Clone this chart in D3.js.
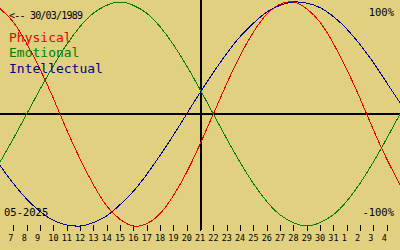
<!DOCTYPE html>
<html>
<head>
<meta charset="utf-8">
<script src="https://cdn.jsdelivr.net/npm/d3@7"></script>
<style>
  body { margin: 0; background: #e0d080; }
  svg { display: block; }
  .mono { font-family: "DejaVu Sans Mono", "Liberation Mono", monospace; }
</style>
</head>
<body>
<div id="bioChart"></div>
<script>
// ...............................
// biorhythm data (day of month, values in %)

var birthLabel = "<-- 30/03/1989";
var monthLabel = "05-2025";
var todayDay = 21;

// days shown: 6 May .. 5 June (32 = 1 June)
var days = [6, 7, 8, 9, 10, 11, 12, 13, 14, 15, 16, 17, 18, 19, 20, 21,
            22, 23, 24, 25, 26, 27, 28, 29, 30, 31, 32, 33, 34, 35, 36];

var physical = [94, 82, 63, 40, 14, -14, -40, -63, -82, -94, -100, -98, -89, -73, -52, -27,
                0, 27, 52, 73, 89, 98, 100, 94, 82, 63, 40, 14, -14, -40, -63];
var emotional = [-43, -22, 0, 22, 43, 62, 78, 90, 97, 100, 97, 90, 78, 62, 43, 22,
                 0, -22, -43, -62, -78, -90, -97, -100, -97, -90, -78, -62, -43, -22, 0];
var intellectual = [-46, -62, -76, -87, -95, -99, -100, -97, -91, -81, -69, -54, -37, -19, 0, 19,
                    37, 54, 69, 81, 91, 97, 100, 99, 95, 87, 76, 62, 46, 28, 10];

var seriesNames = ["Physical", "Emotional", "Intellectual"];
var seriesColours = ["#e80000", "#008000", "#000090"];

// tick positions and the labels printed under them
var tickDays = [7, 8, 9, 10, 11, 12, 13, 14, 15, 16, 17, 18, 19, 20, 21, 22, 23, 24,
                25, 26, 27, 28, 29, 30, 31, 32, 33, 34, 35];
var tickLabels = ["7", "8", "9", "10", "11", "12", "13", "14", "15", "16", "17", "18", "19",
                  "20", "21", "22", "23", "24", "25", "26", "27", "28", "29", "30", "31",
                  "1", "2", "3", "4"];

// ...............................
// layout

var width = 400, height = 250;

var x = d3.scaleLinear().domain([6, 36]).range([0, width]);
var y = d3.scaleLinear().domain([-100, 100]).range([226, 2]);

var svg = d3.select("#bioChart").append("svg")
  .attr("width", width).attr("height", height);

svg.append("rect").attr("width", width).attr("height", height).attr("fill", "#e0d080");

// axis lines (zero line and "today" line)
svg.append("line")
  .attr("x1", 0).attr("x2", width)
  .attr("y1", y(0)).attr("y2", y(0))
  .attr("stroke", "#000").attr("stroke-width", 2);

svg.append("line")
  .attr("x1", x(todayDay) + 1).attr("x2", x(todayDay) + 1)
  .attr("y1", 0).attr("y2", 230)
  .attr("stroke", "#000").attr("stroke-width", 2);

// day ticks + labels
var ticks = svg.append("g").attr("class", "mono");
ticks.selectAll("line")
  .data(tickDays)
  .enter().append("line")
    .attr("x1", function(d) { return Math.round(x(d)) + 0.5; })
    .attr("x2", function(d) { return Math.round(x(d)) + 0.5; })
    .attr("y1", 225).attr("y2", 231)
    .attr("stroke", "#000").attr("stroke-width", 1);

ticks.selectAll("text")
  .data(tickDays)
  .enter().append("text")
    .attr("x", function(d) { return x(d) - 5; })
    .attr("y", 241)
    .style("font-size", "8.5px")
    .attr("fill", "#000")
    .text(function(d, i) { return tickLabels[i]; });

// ...............................
// curves

var allSeries = [physical, emotional, intellectual];

function fn_curve(values, colour) {
  var line = d3.line()
    .x(function(d, i) { return x(days[i]); })
    .y(function(d) { return y(d); })
    .curve(d3.curveNatural);

  svg.append("path")
    .datum(values)
    .attr("d", line)
    .attr("fill", "none")
    .attr("stroke", colour)
    .attr("stroke-width", 1)
    .attr("shape-rendering", "crispEdges");
}

for (idx = 0; idx < allSeries.length; idx++) {
  fn_curve(allSeries[idx], seriesColours[idx]);
}

// ...............................
// texts

var txt = svg.append("g").attr("class", "mono");

txt.append("text")
  .attr("x", 9).attr("y", 19)
  .style("font-size", "10px")
  .attr("textLength", 74).attr("lengthAdjust", "spacing")
  .attr("fill", "#000")
  .text(birthLabel);

for (idx = 0; idx < seriesNames.length; idx++) {
  txt.append("text")
    .attr("x", 9).attr("y", 41.7 + idx * 15.5)
    .style("font-size", "13px")
    .attr("fill", seriesColours[idx])
    .text(seriesNames[idx]);
}

txt.append("text")
  .attr("x", 394).attr("y", 16)
  .attr("text-anchor", "end")
  .style("font-size", "10.5px")
  .attr("fill", "#000")
  .text("100%");

txt.append("text")
  .attr("x", 394).attr("y", 216)
  .attr("text-anchor", "end")
  .style("font-size", "10.5px")
  .attr("fill", "#000")
  .text("-100%");

txt.append("text")
  .attr("x", 4).attr("y", 216)
  .style("font-size", "10.5px")
  .attr("fill", "#000")
  .text(monthLabel);
</script>
</body>
</html>
